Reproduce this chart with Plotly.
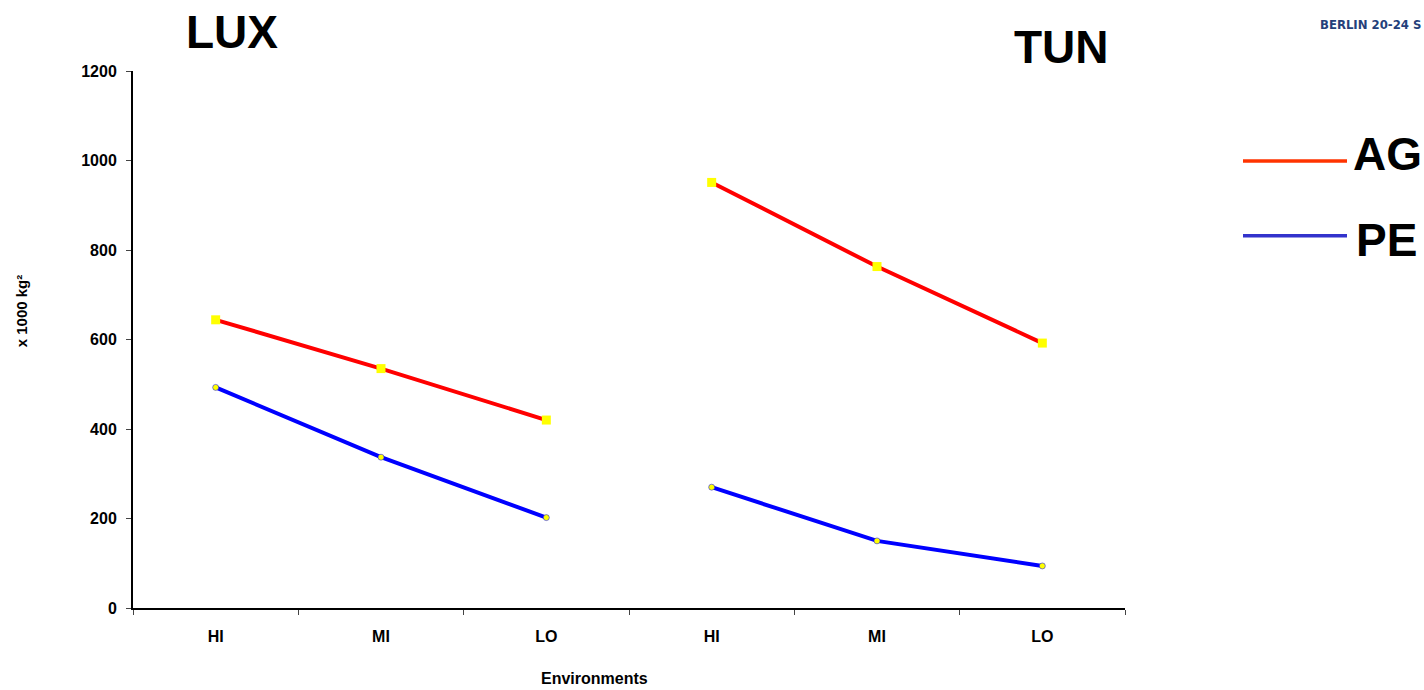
import plotly.graph_objects as go

# ---- data ----
environments = ["HI", "MI", "LO", "HI", "MI", "LO"]
locations = ["LUX", "TUN"]
ag_lux = [644, 535, 420]
pe_lux = [493, 337, 202]
ag_tun = [951, 763, 592]
pe_tun = [270, 150, 94]
y_ticks = [0, 200, 400, 600, 800, 1000, 1200]

x_lux = [0, 1, 2]
x_tun = [3, 4, 5]

FONT = "Liberation Sans, Arial, sans-serif"
RED = "#FF0000"
BLUE = "#0000FF"

fig = go.Figure()

def ag_trace(x, y):
    return go.Scatter(x=x, y=y, mode="lines+markers",
                      line=dict(color=RED, width=4),
                      marker=dict(symbol="square", size=9, color="#FFFF00",
                                  line=dict(width=0)),
                      showlegend=False, hoverinfo="skip")

def pe_trace(x, y):
    return go.Scatter(x=x, y=y, mode="lines+markers",
                      line=dict(color=BLUE, width=4),
                      marker=dict(symbol="circle", size=6, color="#FFFF00",
                                  line=dict(width=0.5, color=BLUE)),
                      showlegend=False, hoverinfo="skip")

fig.add_trace(ag_trace(x_lux, ag_lux))
fig.add_trace(pe_trace(x_lux, pe_lux))
fig.add_trace(ag_trace(x_tun, ag_tun))
fig.add_trace(pe_trace(x_tun, pe_tun))

W, H = 1424, 690
L, R, T, B = 133, 1125, 70.5, 608

def px(x):
    return (x - L) / (R - L)

def py(y):
    return (B - y) / (B - T)

fig.update_layout(
    width=W, height=H,
    margin=dict(l=L, r=W - R, t=T, b=H - B),
    paper_bgcolor="white", plot_bgcolor="white",
    font=dict(family=FONT, color="black"),
    xaxis=dict(
        range=[-0.5, 5.5],
        tickmode="array", tickvals=list(range(6)), ticktext=environments,
        ticks="", showgrid=False, zeroline=False,
        showline=True, linecolor="black", linewidth=2,
        tickfont=dict(family=FONT, size=16, color="black", weight="bold"),
        ticklabelstandoff=13,
        minor=dict(tickmode="linear", tick0=-0.5, dtick=1, ticks="outside",
                   ticklen=5, tickcolor="#444", tickwidth=1, showgrid=False),
    ),
    yaxis=dict(
        range=[0, 1200],
        tickmode="array", tickvals=y_ticks,
        ticks="outside", ticklen=5, tickcolor="#444", tickwidth=1,
        showgrid=False, zeroline=False,
        showline=True, linecolor="black", linewidth=2,
        tickfont=dict(family=FONT, size=16, color="black", weight="bold"),
        ticklabelstandoff=6,
    ),
)

annotations = [
    dict(text="<b>LUX</b>", x=px(232), y=py(31), font=dict(size=46)),
    dict(text="<b>TUN</b>", x=px(1061), y=py(46.5), font=dict(size=46)),
    dict(text="<b>AG</b>", x=px(1351), y=py(154), xanchor="left", font=dict(size=46)),
    dict(text="<b>PE</b>", x=px(1354), y=py(240), xanchor="left", font=dict(size=46)),
    dict(text="<b>x 1000 kg²</b>", x=px(21), y=py(311), textangle=-90, font=dict(size=15)),
    dict(text="<b>Environments</b>", x=px(594), y=py(679), font=dict(size=16)),
    dict(text="<b>BERLIN 20-24 S</b>", x=px(1423), y=py(24), xanchor="right",
         font=dict(size=13, color="#24407A", family="DejaVu Sans Condensed, sans-serif")),
]
for a in annotations:
    a.setdefault("xanchor", "center")
    a.update(xref="paper", yref="paper", showarrow=False, yanchor="middle")
    f = a["font"]
    f.setdefault("family", FONT)
    f.setdefault("color", "black")
fig.update_layout(annotations=annotations)

fig.add_shape(type="line", xref="paper", yref="paper",
              x0=px(1243), x1=px(1347), y0=py(160.5), y1=py(160.5),
              line=dict(color="#FF3300", width=3.5))
fig.add_shape(type="line", xref="paper", yref="paper",
              x0=px(1243), x1=px(1347), y0=py(235.5), y1=py(235.5),
              line=dict(color="#3333CC", width=3.5))

fig.write_html("out.html")
